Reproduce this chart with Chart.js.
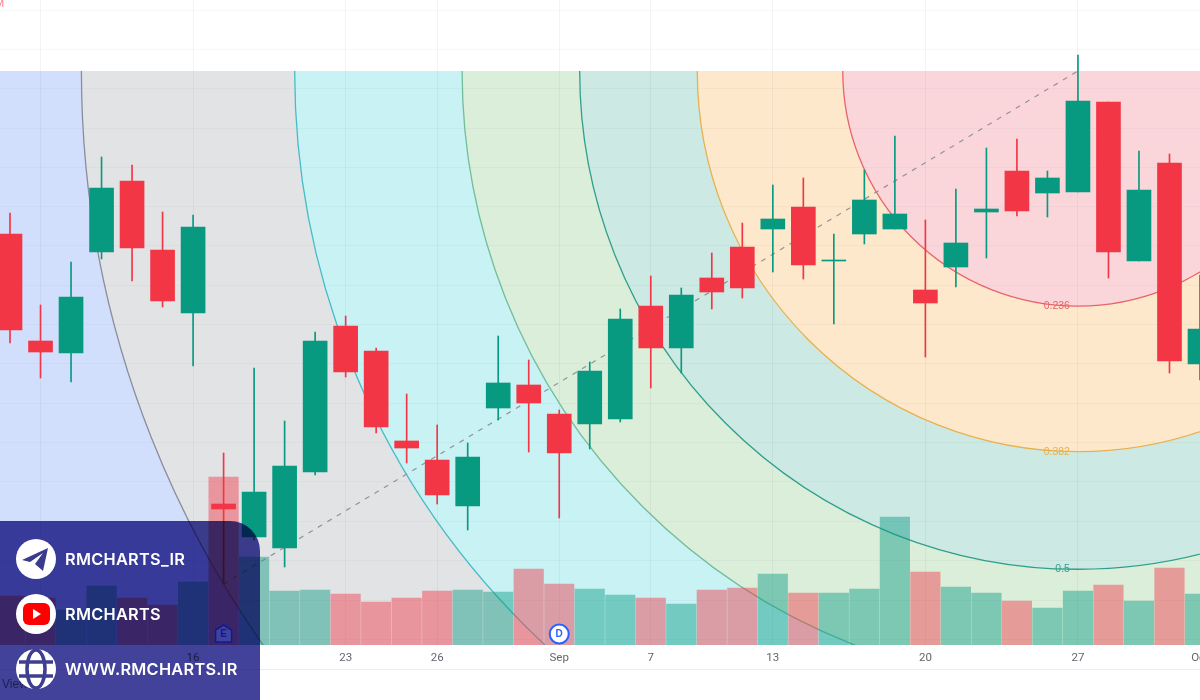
<!DOCTYPE html>
<html>
<head>
<meta charset="utf-8">
<title>Fib circles</title>
<script src="https://cdn.jsdelivr.net/npm/chart.js@4"></script>
<style>
    html, body { margin: 0; padding: 0; background: #fff; overflow: hidden; }
    #wrap { position: relative; width: 1200px; height: 700px; overflow: hidden; }
    #chart { position: absolute; left: 0; top: 0; }
    .banner-bg { position: absolute; left: 0; top: 521px; width: 260px; height: 179px; background: rgb(66, 66, 155); border-top-right-radius: 30px; mix-blend-mode: multiply; }
    .row { position: absolute; left: 16px; height: 40px; display: flex; align-items: center; color: #fff; font: 600 16.3px Inter, sans-serif; letter-spacing: 0.3px; }
    .row svg { width: 40px; height: 40px; margin-right: 9px; }
</style>
</head>
<body>
<div id="wrap">
    <canvas id="chart" width="1200" height="700"></canvas>
    <div class="banner-bg"></div>
    <div class="row" style="top: 539px">
        <svg viewBox="0 0 40 40"><circle cx="20" cy="20" r="20" fill="#fff"/><path d="M6 21 L32 9 L27 32 L19 25 L27 14 L14 23 Z" fill="#3b3b8e"/></svg>RMCHARTS_IR
    </div>
    <div class="row" style="top: 594px">
        <svg viewBox="0 0 40 40"><circle cx="20" cy="20" r="20" fill="#fff"/><rect x="7" y="9" width="27" height="22" rx="6" fill="#f00"/><path d="M17 15 L25 20 L17 25 Z" fill="#fff"/></svg>RMCHARTS
    </div>
    <div class="row" style="top: 649px">
        <svg viewBox="0 0 40 40"><circle cx="20" cy="20" r="20" fill="#fff"/><g fill="none" stroke="#3f3f90" stroke-width="3.5"><ellipse cx="20" cy="20" rx="9" ry="19"/><path d="M3 13 H37 M3 27 H37"/></g></svg>WWW.RMCHARTS.IR
    </div>
</div>

<script>
// candle data, one entry per trading day
const openPrices = [41.1, 30.4, 29.2, 39.3, 46.4, 39.5, 33.2, 14.1, 10.8, 9.7, 17.3, 31.9, 29.4, 20.4, 18.5, 13.9, 23.7, 26.0, 23.1, 22.1, 22.6, 33.9, 29.7, 36.7, 39.8, 41.6, 43.8, 38.4, 41.1, 41.6, 35.5, 37.8, 43.3, 47.4, 45.2, 45.3, 54.3, 38.4, 48.2, 28.1];
const highPrices = [43.2, 34.0, 38.3, 48.8, 48.0, 43.3, 43.0, 19.2, 27.7, 22.4, 31.3, 32.9, 29.7, 25.1, 22.0, 20.2, 30.9, 28.5, 23.5, 28.3, 33.6, 36.9, 35.7, 39.2, 42.2, 46.0, 46.7, 41.1, 47.5, 50.9, 42.5, 45.6, 49.7, 50.6, 47.4, 59.0, 54.3, 49.4, 49.1, 37.0];
const lowPrices = [30.2, 26.7, 26.3, 38.6, 36.4, 33.8, 27.9, 6.1, 10.5, 7.8, 17.0, 26.8, 21.2, 18.2, 14.1, 11.5, 22.5, 19.3, 12.7, 19.6, 22.3, 25.7, 27.2, 33.6, 34.7, 37.3, 36.6, 32.1, 40.1, 41.6, 28.8, 35.8, 38.7, 42.9, 42.8, 45.3, 36.7, 38.4, 27.2, 26.5];
const closePrices = [31.5, 29.3, 34.8, 45.7, 39.7, 34.4, 41.8, 13.6, 15.3, 17.9, 30.4, 27.3, 21.8, 19.7, 15.0, 18.8, 26.2, 24.2, 19.2, 27.4, 32.6, 29.7, 35.0, 35.3, 35.7, 42.6, 38.0, 38.5, 44.5, 43.1, 34.2, 40.2, 43.6, 43.4, 46.7, 54.4, 39.3, 45.5, 28.4, 31.6];
const volumes = [49, 47, 35, 59, 47, 40, 63, 168, 88, 54, 55, 51, 43, 47, 54, 55, 53, 76, 61, 56, 50, 47, 41, 55, 57, 71, 52, 52, 56, 128, 73, 58, 52, 44, 37, 54, 60, 44, 77, 51];

// time axis
const tickDays = [1, 6, 11, 14, 18, 21, 25, 30, 35, 39];
const tickLabels = ['', '16', '23', '26', 'Sep', '7', '13', '20', '27', 'Oct'];
const priceTicks = [63.5, 59.57, 55.64, 51.7, 47.8, 43.85, 39.9, 36, 32.05, 28.1, 24.2, 20.25, 16.3, 12.4, 8.45, 4.5, 0.6];

// fib circles, the trend line runs from the start point to the centre
const fibCentre = [35, 57.4];
const fibStart = [7, 6.1];
const fibLevels = [1, 0.786, 0.618, 0.5, 0.382, 0.236];
const fibFills = ['#e2e3e5', '#c9f2f4', '#dbeeda', '#cce9e3', '#fee8cb', '#fad6db'];
const fibLines = ['#8a8d9c', '#45bcc8', '#72bd9b', '#2f9f8c', '#e9b04e', '#e8636c'];

const UP = '#089981';
const DOWN = '#f23645';
const candleColor = i => closePrices[i] >= openPrices[i] ? UP : DOWN;
const volumeColor = i => closePrices[i] >= openPrices[i] ? 'rgba(8, 153, 129, 0.45)' : 'rgba(242, 54, 69, 0.45)';

function fibGeometry(chart) {
    const x = chart.scales.x, y = chart.scales.y;
    const cx = x.getPixelForValue(fibCentre[0]);
    const cy = y.getPixelForValue(fibCentre[1]);
    const sx = x.getPixelForValue(fibStart[0]);
    const sy = y.getPixelForValue(fibStart[1]);
    return { cx, cy, sx, sy, radius: Math.hypot(cx - sx, cy - sy) };
}

const fibPlugin = {
    id: 'fibCircles',
    beforeDraw(chart) {
        const ctx = chart.ctx, area = chart.chartArea;
        const { cx, cy, radius } = fibGeometry(chart);
        ctx.save();
        ctx.beginPath();
        ctx.rect(area.left, cy, area.right - area.left, area.bottom - cy);
        ctx.clip();
        ctx.fillStyle = '#d2dffc';
        ctx.fillRect(area.left, cy, area.right - area.left, area.bottom - cy);
        fibLevels.forEach((level, i) => {
            ctx.beginPath();
            ctx.arc(cx, cy, radius * level, 0, Math.PI * 2);
            ctx.fillStyle = fibFills[i];
            ctx.fill();
        });
        ctx.restore();
    },
    beforeDatasetsDraw(chart) {
        const ctx = chart.ctx, area = chart.chartArea;
        const { cx, cy, sx, sy, radius } = fibGeometry(chart);
        ctx.save();
        ctx.beginPath();
        ctx.rect(area.left, cy, area.right - area.left, area.bottom - cy);
        ctx.clip();
        ctx.lineWidth = 1.3;
        fibLevels.forEach((level, i) => {
            ctx.beginPath();
            ctx.arc(cx, cy, radius * level, 0, Math.PI * 2);
            ctx.strokeStyle = fibLines[i];
            ctx.stroke();
        });
        ctx.strokeStyle = '#929397';
        ctx.lineWidth = 1.2;
        ctx.setLineDash([5, 6]);
        ctx.beginPath();
        ctx.moveTo(sx, sy);
        ctx.lineTo(cx, cy);
        ctx.stroke();
        ctx.setLineDash([]);
        ctx.font = '10.5px "Liberation Sans", sans-serif';
        ctx.textAlign = 'right';
        ctx.textBaseline = 'middle';
        fibLevels.forEach((level, i) => {
            const labelY = cy + radius * level;
            if (labelY < area.bottom) {
                ctx.fillStyle = fibLines[i];
                ctx.fillText(String(level), cx - 8, labelY);
            }
        });
        ctx.restore();
    },
    afterDatasetsDraw(chart) {
        const ctx = chart.ctx, x = chart.scales.x;
        ctx.save();
        // dividends and earnings badges
        const badgeY = 634;
        const dx = x.getPixelForValue(18);
        ctx.beginPath();
        ctx.arc(dx, badgeY, 9.5, 0, Math.PI * 2);
        ctx.fillStyle = '#fff';
        ctx.fill();
        ctx.strokeStyle = '#2962ff';
        ctx.lineWidth = 2;
        ctx.stroke();
        ctx.fillStyle = '#2962ff';
        ctx.font = 'bold 10px "Liberation Sans", sans-serif';
        ctx.textAlign = 'center';
        ctx.textBaseline = 'middle';
        ctx.fillText('D', dx, badgeY + 0.5);

        const ex = x.getPixelForValue(7);
        ctx.lineWidth = 1.5;
        ctx.beginPath();
        ctx.moveTo(ex, badgeY - 9);
        ctx.lineTo(ex + 8, badgeY - 4);
        ctx.lineTo(ex + 8, badgeY + 8);
        ctx.lineTo(ex - 8, badgeY + 8);
        ctx.lineTo(ex - 8, badgeY - 4);
        ctx.closePath();
        ctx.fillStyle = '#fff';
        ctx.fill();
        ctx.strokeStyle = '#2962ff';
        ctx.stroke();
        ctx.fillStyle = '#2962ff';
        ctx.fillText('E', ex, badgeY);

        // footer line and the cropped bits of the original screenshot
        ctx.fillStyle = '#ebecee';
        ctx.fillRect(0, 669, 1200, 1);
        ctx.fillStyle = '#787b86';
        ctx.font = '12px "Liberation Sans", sans-serif';
        ctx.textAlign = 'left';
        ctx.fillText('View', 2, 685);
        ctx.fillStyle = '#f7848d';
        ctx.font = '11px "Liberation Sans", sans-serif';
        ctx.fillText('M', -5, 4);
        ctx.restore();
    }
};

const days = openPrices.map((_, i) => i);

new Chart(document.getElementById('chart').getContext('2d'), {
    type: 'bar',
    data: {
        datasets: [
            {
                label: 'Volume',
                yAxisID: 'volume',
                order: 3,
                barThickness: 29.5,
                backgroundColor: days.map(volumeColor),
                data: days.map(i => ({ x: i, y: volumes[i] }))
            },
            {
                label: 'Wick',
                order: 2,
                barThickness: 1,
                backgroundColor: days.map(candleColor),
                data: days.map(i => ({ x: i, y: [lowPrices[i], highPrices[i]] }))
            },
            {
                label: 'Body',
                order: 1,
                barThickness: 24,
                backgroundColor: days.map(candleColor),
                data: days.map(i => ({ x: i, y: [openPrices[i], closePrices[i]] }))
            }
        ]
    },
    options: {
        responsive: false,
        animation: false,
        layout: { autoPadding: false, padding: 0 },
        datasets: { bar: { grouped: false } },
        plugins: { legend: { display: false }, tooltip: { enabled: false } },
        scales: {
            x: {
                type: 'linear',
                offset: false,
                min: -0.328,
                max: 39,
                afterBuildTicks: scale => { scale.ticks = tickDays.map(value => ({ value })); },
                afterFit: scale => {
                    scale.height = 55;
                    // the last label is meant to run off the page
                    scale.paddingLeft = 0;
                    scale.paddingRight = 0;
                },
                border: { display: false },
                grid: { offset: false, color: 'rgba(42, 46, 57, 0.05)', drawTicks: false },
                ticks: {
                    autoSkip: false,
                    maxRotation: 0,
                    padding: 6,
                    color: '#63666f',
                    font: { family: 'Roboto, sans-serif', size: 11.5 },
                    callback: value => tickLabels[tickDays.indexOf(value)]
                }
            },
            y: {
                min: 0,
                max: 64.5,
                afterBuildTicks: scale => { scale.ticks = priceTicks.map(value => ({ value })); },
                afterFit: scale => { scale.width = 0; },
                border: { display: false },
                grid: { color: 'rgba(42, 46, 57, 0.035)', drawTicks: false },
                ticks: { display: false }
            },
            volume: {
                display: false,
                min: 0,
                max: 645
            }
        }
    },
    plugins: [fibPlugin]
});
</script>
</body>
</html>
